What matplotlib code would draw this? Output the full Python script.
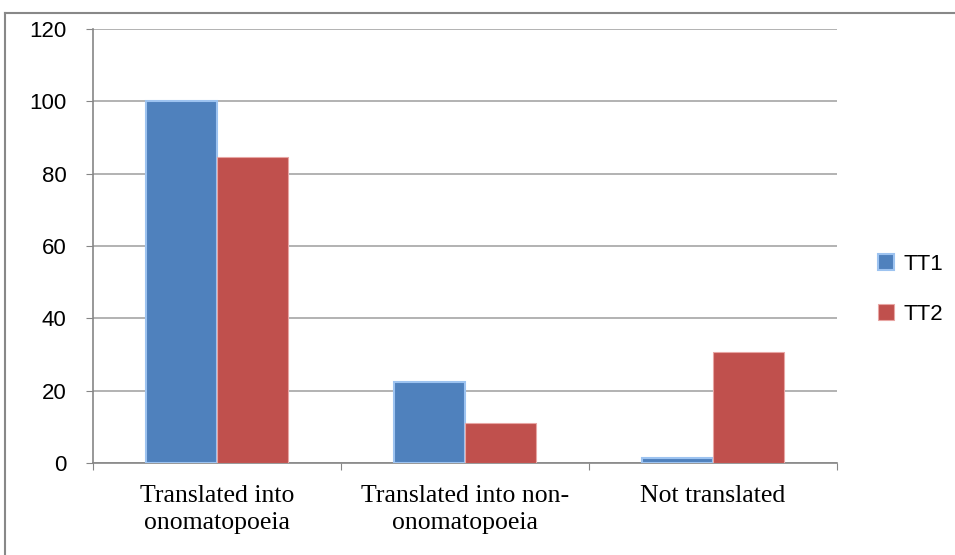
import matplotlib.pyplot as plt
import numpy as np
from matplotlib.lines import Line2D

categories = ["Translated into\nonomatopoeia", "Translated into non-\nonomatopoeia", "Not translated"]
tt1 = [100, 22.5, 1.3]
tt2 = [84.6, 11, 30.8]
yticks = [0, 20, 40, 60, 80, 100, 120]

fig = plt.figure(figsize=(9.55, 5.55), dpi=100)
ax = fig.add_axes([0.0974, 0.1658, 0.779, 0.7819])

x = np.arange(len(categories))
w = 1 / 3.5
ax.bar(x - w / 2, tt1, w, color="#4F81BD", edgecolor="#9DC3F0", linewidth=1.5, label="TT1", zorder=3)
ax.bar(x + w / 2, tt2, w, color="#C0504D", edgecolor="#E8A6A4", linewidth=0.8, label="TT2", zorder=3)

ax.set_xlim(-0.5, 2.5)
ax.set_ylim(0, 120)
ax.set_yticks(yticks)
ax.set_yticklabels([str(v) for v in yticks], fontsize=16, family="Liberation Sans")
ax.yaxis.grid(True, color="#A6A6A6", linewidth=1.2, zorder=0)

ax.set_xticks([-0.5, 0.5, 1.5, 2.5], minor=False)
ax.set_xticklabels([])
ax.set_xticks(x, minor=True)
ax.set_xticklabels(categories, minor=True, fontsize=18.5, family="Liberation Serif", linespacing=1.3)
ax.tick_params(axis="x", which="minor", length=0, pad=16)
ax.tick_params(axis="x", which="major", length=5, color="#868686")
ax.tick_params(axis="y", length=5, color="#868686", pad=14)

for s in ["top", "right"]:
    ax.spines[s].set_visible(False)
for s in ["left", "bottom"]:
    ax.spines[s].set_color("#868686")
    ax.spines[s].set_linewidth(1.2)

ax.legend(loc="center left", bbox_to_anchor=(1.028, 0.40), frameon=False,
          prop={"family": "Liberation Sans", "size": 16}, labelspacing=1.3,
          handlelength=0.75, handleheight=0.75, handletextpad=0.4)

# outer chart border (left and top)
fig.add_artist(Line2D([5 / 955, 5 / 955], [0, 1 - 13 / 555], color="#888888", lw=1.5))
fig.add_artist(Line2D([5 / 955, 1], [1 - 13 / 555, 1 - 13 / 555], color="#888888", lw=1.5))

plt.savefig("out.png", dpi=100)
